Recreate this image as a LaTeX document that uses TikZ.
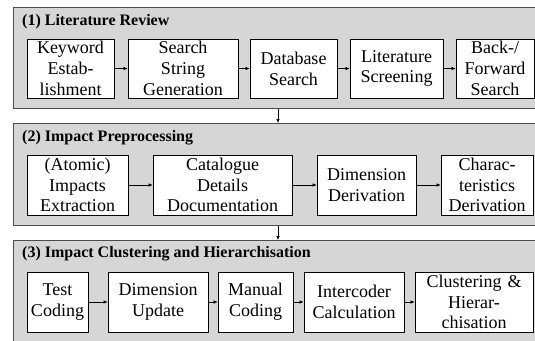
\documentclass[tikz,border=0pt]{standalone}
\usepackage{fontspec}
\setmainfont{Liberation Serif}
\usetikzlibrary{arrows.meta}
\begin{document}
\begin{tikzpicture}[x=1pt,y=-1pt,
  panel/.style={draw=black!70,fill=black!16,line width=0.8pt,inner sep=0pt,anchor=north west},
  ptitle/.style={anchor=west,inner sep=0pt,font=\fontsize{16}{18}\selectfont\bfseries},
  stepbox/.style={draw=black,fill=white,line width=0.7pt,inner sep=0pt,align=center,
    font=\fontsize{18}{20.7}\selectfont},
  flow/.style={-{Latex[length=4pt,width=3.5pt]},line width=0.6pt}]
\useasboundingbox (0,0) rectangle (535,340);
\begin{scope}
\clip (0,0) rectangle (535,340);
% panels
\node[panel,minimum width=530pt,minimum height=101pt] (p1) at (13,7) {};
\node[panel,minimum width=530pt,minimum height=102pt] (p2) at (13,123) {};
\node[panel,minimum width=530pt,minimum height=110pt] (p3) at (13,240) {};
\node[ptitle] (t1) at (22,22) {(1) Literature Review};
\node[ptitle] (t2) at (22,138) {(2) Impact Preprocessing};
\node[ptitle] (t3) at (22,254) {(3) Impact Clustering and Hierarchisation};
% panel 1
\node[stepbox,minimum width=87pt,text width=87pt,minimum height=59pt] (a1) at (70.5,68.5) {Keyword\\Estab-\\lishment};
\node[stepbox,minimum width=110pt,text width=110pt,minimum height=59pt] (a2) at (183,68.5) {Search\\String\\Generation};
\node[stepbox,minimum width=87pt,text width=87pt,minimum height=59pt] (a3) at (293.5,68.5) {Database\\Search};
\node[stepbox,minimum width=93pt,text width=93pt,minimum height=59pt] (a4) at (396.5,68.5) {Literature\\Screening};
\node[stepbox,minimum width=78pt,text width=78pt,minimum height=59pt] (a5) at (495,68.5) {Back-/\\Forward\\Search};
% panel 2
\node[stepbox,minimum width=101pt,text width=101pt,minimum height=60pt] (b1) at (77.5,185) {(Atomic)\\Impacts\\Extraction};
\node[stepbox,minimum width=139pt,text width=139pt,minimum height=60pt] (b2) at (222.5,185) {Catalogue\\Details\\Documentation};
\node[stepbox,minimum width=99pt,text width=99pt,minimum height=60pt] (b3) at (366.5,185) {Dimension\\Derivation};
\node[stepbox,minimum width=92pt,text width=92pt,minimum height=60pt] (b4) at (487,185) {Charac-\\teristics\\Derivation};
% panel 3
\node[stepbox,minimum width=61pt,text width=61pt,minimum height=60pt] (c1) at (57.5,302) {Test\\Coding};
\node[stepbox,minimum width=100pt,text width=100pt,minimum height=60pt] (c2) at (158,302) {Dimension\\Update};
\node[stepbox,minimum width=75pt,text width=75pt,minimum height=60pt] (c3) at (255.5,302) {Manual\\Coding};
\node[stepbox,minimum width=100pt,text width=100pt,minimum height=60pt] (c4) at (354,302) {Intercoder\\Calculation};
\node[stepbox,minimum width=118pt,text width=118pt,minimum height=60pt] (c5) at (474,302) {Clustering \&\\Hierar-\\chisation};
% arrows
\draw[flow] (a1) -- (a2);
\draw[flow] (a2) -- (a3);
\draw[flow] (a3) -- (a4);
\draw[flow] (a4) -- (a5);
\draw[flow] (b1) -- (b2);
\draw[flow] (b2) -- (b3);
\draw[flow] (b3) -- (b4);
\draw[flow] (c1) -- (c2);
\draw[flow] (c2) -- (c3);
\draw[flow] (c3) -- (c4);
\draw[flow] (c4) -- (c5);
\coordinate (ax) at (278,0);
\draw[flow] (p1.south -| ax) -- (p2.north -| ax);
\draw[flow] (p2.south -| ax) -- (p3.north -| ax);
\end{scope}
\end{tikzpicture}
\end{document}
